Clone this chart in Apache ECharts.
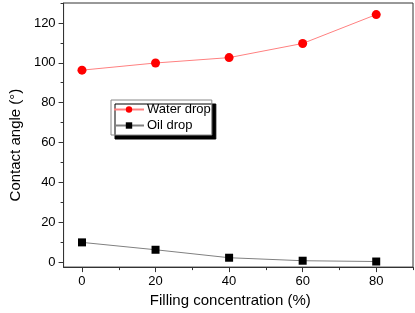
<!DOCTYPE html>
<html>
<head>
<meta charset="utf-8">
<script src="https://cdn.jsdelivr.net/npm/echarts@6/dist/echarts.min.js"></script>
<style>
  html, body { margin: 0; padding: 0; background: #fff; }
  #chart { width: 415px; height: 313px; }
</style>
</head>
<body>
<div id="chart"></div>
<script>
// data
var concentration = [0, 20, 40, 60, 80]
var waterDrop = [96.3, 99.9, 102.6, 109.7, 124.2]
var oilDrop = [9.9, 6.2, 2.2, 0.7, 0.3]
var xLabels = [0, 20, 40, 60, 80]
var xMinor = [10, 30, 50, 70, 90]
var yLabels = [0, 20, 40, 60, 80, 100, 120]
var yMinor = [10, 30, 50, 70, 90, 110, 130]

var font = 'Liberation Sans, Arial, sans-serif'
var axisColor = '#333'

function pairs(xs, ys) {
  return xs.map(function(x, i) { return [x, ys[i]] })
}

var chart = echarts.init(document.getElementById('chart'))
chart.setOption({
  animation: false,
  grid: {
    left: 55,
    right: 2,
    top: 3,
    bottom: 43,
    show: true,
    borderColor: axisColor,
    borderWidth: 1
  },
  legend: {
    orient: 'vertical',
    left: 111,
    top: 100,
    itemWidth: 30,
    itemHeight: 8,
    itemGap: 3,
    padding: [3, 1, 3, 2],
    backgroundColor: '#fff',
    borderColor: '#888',
    borderWidth: 1,
    shadowColor: '#000',
    shadowBlur: 0,
    shadowOffsetX: 4,
    shadowOffsetY: 4,
    textStyle: { fontFamily: font, fontSize: 13, color: '#000', padding: [0, 0, 0, -2] },
    data: ['Water drop', 'Oil drop']
  },
  xAxis: [{
    type: 'value',
    min: -5,
    max: 90,
    name: 'Filling concentration (%)',
    nameLocation: 'middle',
    nameGap: 25,
    nameTextStyle: { fontFamily: font, fontSize: 15, color: '#000', padding: [0, 16, 0, 0] },
    splitLine: { show: false },
    axisLine: { show: true, onZero: false, lineStyle: { color: axisColor } },
    axisTick: { show: true, length: 5, customValues: xLabels, lineStyle: { color: axisColor } },
    axisLabel: { customValues: xLabels, margin: 8, fontFamily: font, fontSize: 13, color: '#000' }
  }, {
    type: 'value',
    position: 'bottom',
    min: -5,
    max: 90,
    splitLine: { show: false },
    axisLine: { show: false, onZero: false },
    axisTick: { show: true, length: 3, customValues: xMinor, lineStyle: { color: axisColor } },
    axisLabel: { show: false }
  }],
  yAxis: [{
    type: 'value',
    min: -2.5,
    max: 130,
    name: 'Contact angle (°)',
    nameLocation: 'middle',
    nameGap: 37,
    nameTextStyle: { fontFamily: font, fontSize: 15, color: '#000', padding: [0, 20, 0, 0] },
    splitLine: { show: false },
    axisLine: { show: true, onZero: false, lineStyle: { color: axisColor } },
    axisTick: { show: true, length: 5, customValues: yLabels, lineStyle: { color: axisColor } },
    axisLabel: { customValues: yLabels, margin: 8, fontFamily: font, fontSize: 13, color: '#000' }
  }, {
    type: 'value',
    position: 'left',
    min: -2.5,
    max: 130,
    splitLine: { show: false },
    axisLine: { show: false, onZero: false },
    axisTick: { show: true, length: 3, customValues: yMinor, lineStyle: { color: axisColor } },
    axisLabel: { show: false }
  }],
  series: [{
    name: 'Water drop',
    type: 'line',
    data: pairs(concentration, waterDrop),
    symbol: 'circle',
    symbolSize: 9,
    lineStyle: { color: '#ff8080', width: 1 },
    itemStyle: { color: '#ff0000' }
  }, {
    name: 'Oil drop',
    type: 'line',
    data: pairs(concentration, oilDrop),
    symbol: 'rect',
    symbolSize: 8,
    lineStyle: { color: '#808080', width: 1 },
    itemStyle: { color: '#000' }
  }]
})
</script>
</body>
</html>
